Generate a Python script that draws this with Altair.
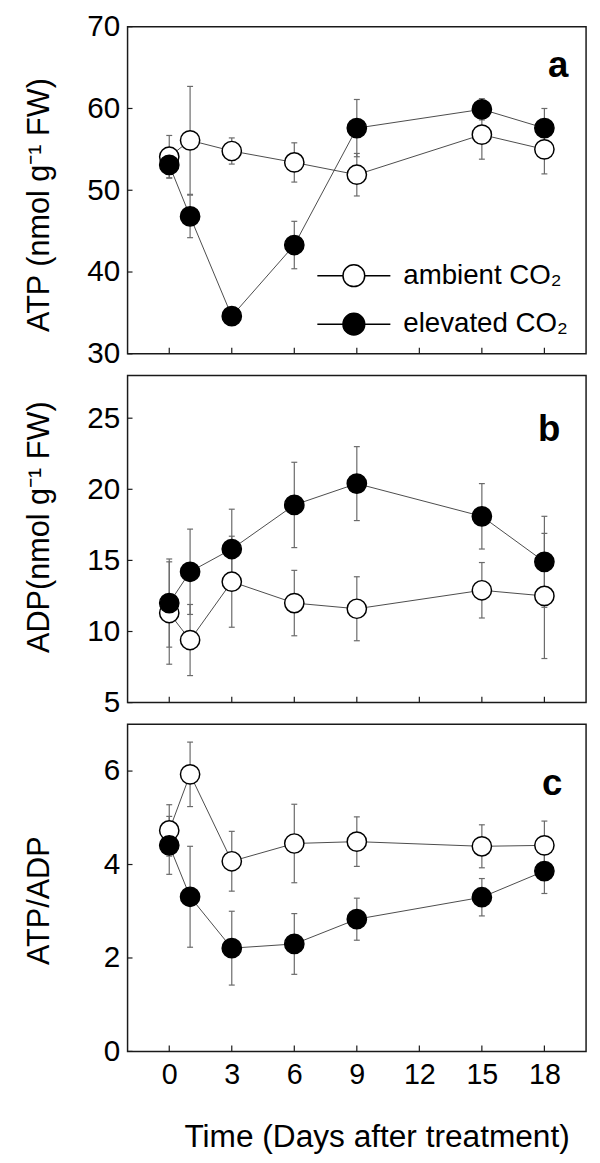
import altair as alt
import pandas as pd

days = [0, 1, 3, 6, 9, 15, 18]
series = ["ambient CO₂", "elevated CO₂"]
x_ticks = [0, 3, 6, 9, 12, 15, 18]

# Panel a: ATP (nmol g-1 FW)
atp_amb = [54.1, 56.1, 54.8, 53.4, 51.9, 56.8, 55.0]
atp_amb_err = [2.6, 6.6, 1.6, 2.4, 2.6, 3.0, 3.0]
atp_ele = [53.1, 46.8, 34.6, 43.3, 57.6, 59.9, 57.6]
atp_ele_err = [1.6, 2.6, 0.8, 2.9, 3.5, 1.3, 2.4]
atp_ticks = [30, 40, 50, 60, 70]

# Panel b: ADP (nmol g-1 FW)
adp_amb = [11.3, 9.4, 13.5, 12.0, 11.6, 12.9, 12.5]
adp_amb_err = [3.6, 2.5, 3.2, 2.3, 2.25, 1.95, 4.4]
adp_ele = [12.0, 14.2, 15.8, 18.9, 20.4, 18.1, 14.9]
adp_ele_err = [3.1, 3.0, 2.8, 3.0, 2.6, 2.3, 3.2]
adp_ticks = [5, 10, 15, 20, 25]

# Panel c: ATP/ADP
ratio_amb = [4.73, 5.93, 4.07, 4.45, 4.49, 4.39, 4.41]
ratio_amb_err = [0.55, 0.69, 0.64, 0.84, 0.53, 0.46, 0.52]
ratio_ele = [4.41, 3.31, 2.21, 2.30, 2.83, 3.30, 3.86]
ratio_ele_err = [0.62, 1.08, 0.79, 0.65, 0.45, 0.40, 0.48]
ratio_ticks = [0, 2, 4, 6]

FONT = "Liberation Sans"
W, H = 464, 331
LEGEND_SYMBOL = "M-3.36,0L-1,0M1,0L3.36,0M-1,0A1,1,0,1,1,1,0A1,1,0,1,1,-1,0Z"


def make_df(amb, amb_err, ele, ele_err):
    rows = []
    for name, vals, errs in [(series[0], amb, amb_err), (series[1], ele, ele_err)]:
        for d, v, e in zip(days, vals, errs):
            rows.append({"day": d, "value": v, "lo": v - e, "hi": v + e, "series": name})
    return pd.DataFrame(rows)


def panel(amb, amb_err, ele, ele_err, ydom, yticks, ytitle, title_y,
          letter, letter_x, letter_y, show_x, legend):
    df = make_df(amb, amb_err, ele, ele_err)
    xscale = alt.Scale(domain=[-2, 20], nice=False, zero=False)
    yscale = alt.Scale(domain=ydom, nice=False, zero=False)
    if show_x:
        xaxis = alt.Axis(values=x_ticks, tickSize=0, domain=False, grid=False,
                         labelFont=FONT, labelFontSize=29, labelColor="black",
                         labelPadding=9, labelFlush=False,
                         title="Time (Days after treatment)", titleFont=FONT,
                         titleFontSize=32, titleFontWeight="normal", titleColor="black",
                         titleX=252, titleY=96, titleAlign="center",
                         titleBaseline="alphabetic")
    else:
        xaxis = None
    yaxis = alt.Axis(values=yticks, tickSize=0, domain=False, grid=False,
                     labelFont=FONT, labelFontSize=30, labelColor="black",
                     labelPadding=8, title=ytitle, titleFont=FONT, titleFontSize=31,
                     titleFontWeight="normal", titleColor="black", titleAngle=270,
                     titleX=-80, titleY=title_y, titleAlign="center",
                     titleBaseline="alphabetic")

    def X(f):
        return alt.X(f, type="quantitative", scale=xscale, axis=xaxis)

    def Y(f):
        return alt.Y(f, type="quantitative", scale=yscale, axis=yaxis)

    base = alt.Chart(df)
    err = base.mark_rule(color="#6a6a6a", strokeWidth=1.2).encode(
        x=X("day"), y=Y("lo"), y2="hi")
    cap_lo = base.mark_tick(orient="horizontal", size=6, thickness=1.2,
                            color="#6a6a6a", opacity=1).encode(x=X("day"), y=Y("lo"))
    cap_hi = base.mark_tick(orient="horizontal", size=6, thickness=1.2,
                            color="#6a6a6a", opacity=1).encode(x=X("day"), y=Y("hi"))
    line = base.mark_line(color="#4a4a4a", strokeWidth=1).encode(
        x=X("day"), y=Y("value"), detail="series:N")
    if legend:
        leg = alt.Legend(orient="none", legendX=215, legendY=238, title=None,
                         symbolType=LEGEND_SYMBOL, symbolSize=484,
                         symbolStrokeColor="black", symbolStrokeWidth=1.5,
                         symbolOpacity=1, labelLimit=400,
                         labelFont=FONT, labelFontSize=28, labelColor="black",
                         labelOffset=36, rowPadding=21, padding=0)
    else:
        leg = None
    pts = base.mark_point(shape="circle", filled=True, size=380, opacity=1,
                          stroke="black", strokeWidth=1.5).encode(
        x=X("day"), y=Y("value"),
        fill=alt.Fill("series:N", scale=alt.Scale(domain=series, range=["white", "black"]),
                      legend=leg))

    ytk = alt.Chart(pd.DataFrame({"t": yticks})).mark_rule(
        color="#1a1a1a", strokeWidth=1.2).encode(
        y=Y("t"), x=alt.value(0), x2=alt.value(5))
    xtk = alt.Chart(pd.DataFrame({"t": x_ticks})).mark_rule(
        color="#1a1a1a", strokeWidth=1.2).encode(
        x=X("t"), y=alt.value(H), y2=alt.value(H - 6))
    lab = alt.Chart(pd.DataFrame({"t": [letter]})).mark_text(
        font=FONT, fontSize=37, fontWeight="bold", align="right",
        baseline="alphabetic", color="black").encode(
        text="t:N", x=alt.value(letter_x), y=alt.value(letter_y))

    return alt.layer(err, cap_lo, cap_hi, line, pts, ytk, xtk, lab).properties(
        width=W, height=H)


pa = panel(atp_amb, atp_amb_err, atp_ele, atp_ele_err, [30, 70], atp_ticks,
           "ATP (nmol g⁻¹ FW)", 180, "a", 446, 51, False, True)
pb = panel(adp_amb, adp_amb_err, adp_ele, adp_ele_err, [5, 28], adp_ticks,
           "ADP(nmol g⁻¹ FW)", 153, "b", 438, 66, False, False)
pc = panel(ratio_amb, ratio_amb_err, ratio_ele, ratio_ele_err, [0, 7], ratio_ticks,
           "ATP/ADP", 178, "c", 440, 72, True, False)

chart = alt.vconcat(pa, pb, pc, spacing=5).resolve_scale(
    fill="independent").resolve_legend(fill="independent").properties(
    padding={"left": 15, "top": -4, "right": 5, "bottom": 5},
    background="white").configure_view(stroke="#1a1a1a", strokeWidth=1.5)

chart.save("out.html", embed_options={"renderer": "svg", "actions": False})
